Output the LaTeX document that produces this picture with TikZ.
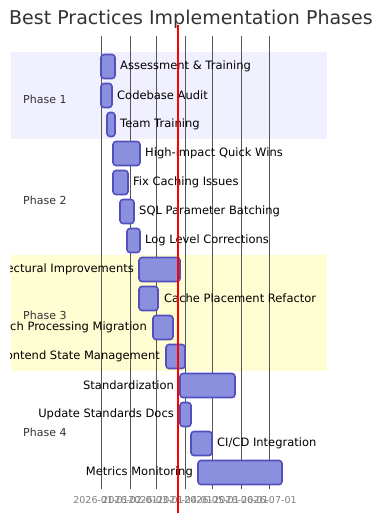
\documentclass[tikz,border=0pt]{standalone}
\usepackage{fontspec}
\setmainfont{DejaVu Sans}
\definecolor{secA}{RGB}{240,240,255}
\definecolor{secB}{RGB}{255,253,210}
\definecolor{barfill}{HTML}{8A90DD}
\definecolor{barline}{HTML}{534FBC}
\definecolor{txt}{HTML}{333333}
\definecolor{gridc}{HTML}{555555}
\tikzset{
  bar/.style={draw=barline, fill=barfill, line width=1.6pt, rounded corners=3pt},
  lbl/.style={inner sep=0pt, font=\fontsize{11.5}{13}\selectfont, text=black},
  lblR/.style={lbl, anchor=west},
  lblL/.style={lbl, anchor=east},
  sect/.style={inner sep=0pt, anchor=west, font=\fontsize{11}{13}\selectfont, text=txt},
  axl/.style={inner sep=0pt, font=\fontsize{9.5}{12}\selectfont, text=gray},
  gridl/.style={draw=gridc, line width=0.8pt},
}
\begin{document}
\begin{tikzpicture}[x=1pt,y=-1pt]
\useasboundingbox (0,0) rectangle (372,513);
\fill[white] (0,0) rectangle (372,513);
% sections
\fill[secA] (11,52) rectangle (327,139);
\fill[secB] (11,255) rectangle (327,371);
% grid
\foreach \gx/\gn in {101/g1,130/g2,156/g3,185/g4,212/g5,241/g6,269/g7}{
  \coordinate (\gn t) at (\gx,36);
  \coordinate (\gn b) at (\gx,489);
  \draw[gridl] (\gn t) -- (\gn b);
}
% axis labels
\node[axl] (a1) at (101,500) {2026-01-01};
\node[axl] (a2) at (130,500) {2026-02-01};
\node[axl] (a3) at (156,500) {2026-03-01};
\node[axl] (a4) at (185,500) {2026-04-01};
\node[axl] (a5) at (212,500) {2026-05-01};
\node[axl] (a6) at (241,500) {2026-06-01};
\node[axl] (a7) at (269,500) {2026-07-01};
% bars
\foreach \i/\xa/\xb in {0/101/115,1/101/112,2/107/115,3/113/140,4/113/128,5/120/134,6/127/140,7/139/180,8/139/158,9/153/173,10/166/185,11/180/235,12/180/191,13/191/212,14/198/282}{
  \pgfmathsetmacro{\yc}{66.5+29*\i}
  \path[bar] (\xa,\yc-12) rectangle (\xb,\yc+12);
}
\begin{scope}
\clip (10,0) rectangle (372,513);
% title
\node[inner sep=0pt, anchor=base west, font=\fontsize{19}{23}\selectfont, text=txt] (title) at (9,25) {Best Practices Implementation Phases};
% section titles
\node[sect] (s1) at (23,99) {Phase 1};
\node[sect] (s2) at (23,200) {Phase 2};
\node[sect] (s3) at (23,315) {Phase 3};
\node[sect] (s4) at (23,432) {Phase 4};
% task labels
\node[lblR] (t0) at (120,66.5) {Assessment \& Training};
\node[lblR] (t1) at (117,95.5) {Codebase Audit};
\node[lblR] (t2) at (120,124.5) {Team Training};
\node[lblR] (t3) at (145,153.5) {High-impact Quick Wins};
\node[lblR] (t4) at (133,182.5) {Fix Caching Issues};
\node[lblR] (t5) at (139,211.5) {SQL Parameter Batching};
\node[lblR] (t6) at (145,240.5) {Log Level Corrections};
\node[lblL] (t7) at (134,269.5) {Architectural Improvements};
\node[lblR] (t8) at (164,298.5) {Cache Placement Refactor};
\node[lblL] (t9) at (147,327.5) {Batch Processing Migration};
\node[lblL] (t10) at (160,356.5) {Frontend State Management};
\node[lblL] (t11) at (174,385.5) {Standardization};
\node[lblL] (t12) at (174,414.5) {Update Standards Docs};
\node[lblR] (t13) at (217,443.5) {CI/CD Integration};
\node[lblL] (t14) at (193,472.5) {Metrics Monitoring};
\end{scope}
% today line
\coordinate (today-top) at (178,25);
\coordinate (today-bot) at (178,513);
\draw[red, line width=2pt] (today-top) -- (today-bot);
\end{tikzpicture}
\end{document}
